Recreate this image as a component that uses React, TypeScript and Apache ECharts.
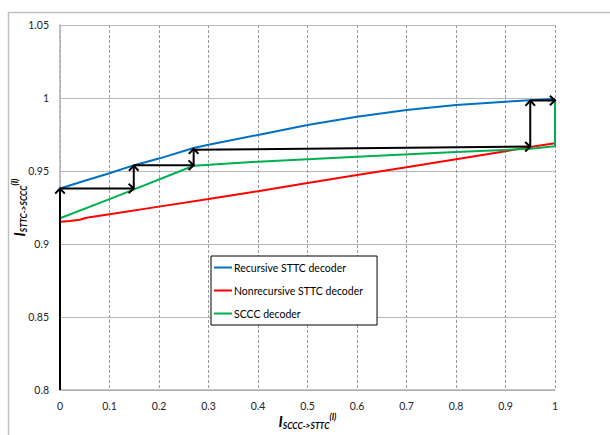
import React, { useEffect, useRef } from "react";
import * as echarts from "echarts";

const xTicks = [0, 0.1, 0.2, 0.3, 0.4, 0.5, 0.6, 0.7, 0.8, 0.9, 1];
const yTicks = [0.8, 0.85, 0.9, 0.95, 1, 1.05];

const recursiveX = [0, 0.05, 0.1, 0.15, 0.2, 0.27, 0.3, 0.4, 0.5, 0.6, 0.7, 0.8, 0.9, 0.95, 1];
const recursiveY = [0.938, 0.9433, 0.9485, 0.954, 0.9585, 0.9658, 0.968, 0.9747, 0.9815, 0.9872, 0.9918, 0.9952, 0.9975, 0.9984, 0.9993];

const nonrecursiveX = [0, 0.02, 0.04, 0.05, 0.06, 0.1, 0.2, 0.3, 0.4, 0.5, 0.6, 0.7, 0.8, 0.9, 0.95, 1];
const nonrecursiveY = [0.9153, 0.9158, 0.9166, 0.9176, 0.9184, 0.9203, 0.9256, 0.9308, 0.9362, 0.9418, 0.9473, 0.9525, 0.958, 0.9635, 0.9665, 0.969];

const scccX = [0, 0, 0.1, 0.27, 0.4, 0.6, 0.8, 0.95, 1, 1];
const scccY = [0.8, 0.9176, 0.9307, 0.9536, 0.9564, 0.9598, 0.963, 0.9652, 0.967, 0.9993];

// decoding trajectory segments: [x1, y1, x2, y2]
const trajectory = [
  [0, 0.8, 0, 0.938],
  [0, 0.938, 0.149, 0.938],
  [0.149, 0.938, 0.149, 0.9537],
  [0.149, 0.954, 0.27, 0.954],
  [0.27, 0.954, 0.27, 0.9652],
  [0.27, 0.9645, 0.95, 0.9667],
  [0.95, 0.9667, 0.95, 0.9982],
  [0.95, 0.9983, 1, 0.9983],
];

const seriesNames = ["Recursive STTC decoder", "Nonrecursive STTC decoder", "SCCC decoder"];
const seriesColors = ["#0070C0", "#FF0000", "#00B050"];

const zip = (xs: number[], ys: number[]) => xs.map((x, i) => [x, ys[i]]);

const FONT = "Lato, 'Open Sans', sans-serif";

const nameRich = {
  i: { fontSize: 15, fontWeight: "bold", fontStyle: "italic", fontFamily: FONT, color: "#000", lineHeight: 20, verticalAlign: "middle" },
  sub: { fontSize: 8.5, fontWeight: "bold", fontStyle: "italic", fontFamily: FONT, color: "#000", lineHeight: 9, verticalAlign: "bottom", padding: [0, 0, 1, 0] },
  sup: { fontSize: 8.5, fontWeight: "bold", fontStyle: "italic", fontFamily: FONT, color: "#000", lineHeight: 9, verticalAlign: "top", padding: [1, 0, 0, 0] },
};

export default function App() {
  const ref = useRef<HTMLDivElement>(null);
  useEffect(() => {
    if (!ref.current) return;
    const chart = echarts.init(ref.current, null, { renderer: "svg" });
    const fmt = (v: number) => String(Number(v.toFixed(2)));
    chart.setOption({
      animation: false,
      backgroundColor: "#fff",
      graphic: [
        {
          type: "polyline",
          shape: { points: [[8.5, 440], [8.5, 12.5], [620, 12.5]] },
          style: { stroke: "#c0c0c0", lineWidth: 1.5, fill: "none" },
          silent: true,
        },
      ],
      grid: { left: 60, right: 55, top: 25, bottom: 45, containLabel: false, outerBoundsMode: "none" },
      xAxis: {
        type: "value",
        min: 0,
        max: 1,
        interval: 0.1,
        name: "{i|I}{sub|SCCC->STTC}{sup|(I)}",
        nameLocation: "middle",
        nameGap: 21,
        nameMoveOverlap: false,
        nameTextStyle: { rich: nameRich },
        axisLine: { show: true, lineStyle: { color: "#b0b0b0", width: 1.5 } },
        axisTick: { show: false },
        axisLabel: { margin: 10, fontSize: 10.5, fontFamily: FONT, color: "#222", formatter: fmt, showMinLabel: true, showMaxLabel: true },
        splitLine: { show: true, lineStyle: { color: "#9a9a9a", type: [3, 2], width: 1 } },
      },
      yAxis: {
        type: "value",
        min: 0.8,
        max: 1.05,
        interval: 0.05,
        name: "{i|I}{sub|STTC->SCCC}{sup|(I)}",
        nameLocation: "middle",
        nameRotate: 90,
        nameGap: 31,
        nameMoveOverlap: false,
        nameTextStyle: { rich: nameRich },
        axisLine: { show: true, lineStyle: { color: "#b0b0b0", width: 1.5 } },
        axisTick: { show: false },
        axisLabel: { margin: 11, fontSize: 10.5, fontFamily: FONT, color: "#222", formatter: fmt },
        splitLine: { show: true, lineStyle: { color: "#b8b8b8", type: "solid", width: 1.2 } },
      },
      legend: {
        left: 211,
        top: 256,
        orient: "vertical",
        data: seriesNames,
        backgroundColor: "#fff",
        borderColor: "#000",
        borderWidth: 1,
        padding: [6, 14, 6, 2],
        itemWidth: 18,
        itemHeight: 12,
        itemGap: 12,
        itemStyle: { opacity: 0 },
        lineStyle: { width: 2 },
        textStyle: { fontSize: 10.5, fontFamily: FONT, color: "#000", padding: [0, 0, 0, -3] },
      },
      series: [
        {
          name: seriesNames[0],
          type: "line",
          data: zip(recursiveX, recursiveY),
          symbol: "none",
          smooth: false,
          lineStyle: { color: seriesColors[0], width: 2 },
          itemStyle: { color: seriesColors[0] },
          z: 3,
        },
        {
          name: seriesNames[1],
          type: "line",
          data: zip(nonrecursiveX, nonrecursiveY),
          symbol: "none",
          lineStyle: { color: seriesColors[1], width: 2 },
          itemStyle: { color: seriesColors[1] },
          z: 3,
        },
        {
          name: seriesNames[2],
          type: "line",
          data: zip(scccX, scccY),
          symbol: "none",
          lineStyle: { color: seriesColors[2], width: 2 },
          itemStyle: { color: seriesColors[2] },
          z: 3,
        },
        {
          name: "trajectory",
          type: "custom",
          coordinateSystem: "cartesian2d",
          data: trajectory,
          encode: { x: [0, 2], y: [1, 3] },
          z: 5,
          renderItem: (params: any, api: any) => {
            const p1 = api.coord([api.value(0), api.value(1)]);
            const p2 = api.coord([api.value(2), api.value(3)]);
            const ang = Math.atan2(p2[1] - p1[1], p2[0] - p1[0]);
            const L = 7;
            const a = 0.75;
            const b1 = [p2[0] - L * Math.cos(ang - a), p2[1] - L * Math.sin(ang - a)];
            const b2 = [p2[0] - L * Math.cos(ang + a), p2[1] - L * Math.sin(ang + a)];
            return {
              type: "group",
              children: [
                {
                  type: "line",
                  shape: { x1: p1[0], y1: p1[1], x2: p2[0], y2: p2[1] },
                  style: { stroke: "#000", lineWidth: 2 },
                },
                {
                  type: "polyline",
                  shape: { points: [b1, p2, b2] },
                  style: { stroke: "#000", lineWidth: 2, fill: "none" },
                },
              ],
            };
          },
        },
      ],
    });
    return () => chart.dispose();
  }, []);
  return <div ref={ref} style={{ position: "absolute", left: 0, top: 0, width: 610, height: 435 }} />;
}
